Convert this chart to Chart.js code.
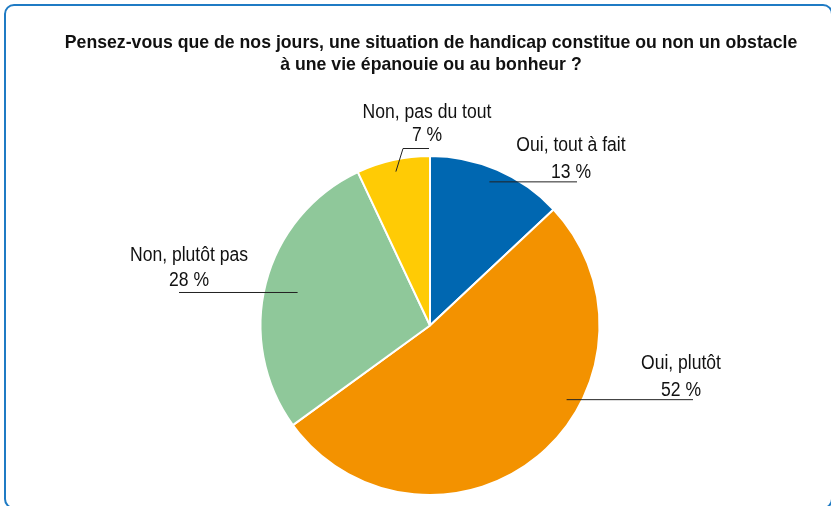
<!DOCTYPE html>
<html>
<head>
<meta charset="utf-8">
<script src="https://cdn.jsdelivr.net/npm/chart.js@4"></script>
<style>
  html, body { margin: 0; padding: 0; background: #fff; }
  body { width: 831px; height: 506px; overflow: hidden; position: relative; }
  .frame {
    position: absolute; left: 4px; top: 4px; width: 829px; height: 505px;
    border: 2px solid #1f7bc4; border-radius: 10px; box-sizing: border-box;
  }
  #wrap { position: absolute; left: 0; top: 0; width: 831px; height: 506px; }
</style>
</head>
<body>
<div class="frame"></div>
<div id="wrap"><canvas id="pie-chart"></canvas></div>
<script>
// chart data
const categories = ['Oui, tout à fait', 'Oui, plutôt', 'Non, plutôt pas', 'Non, pas du tout'];
const percentages = [13, 52, 28, 7];
const sliceColors = ['#0067b1', '#f39200', '#8fc89a', '#ffcb05'];
const titleLines = [
    'Pensez-vous que de nos jours, une situation de handicap constitue ou non un obstacle',
    'à une vie épanouie ou au bonheur ?'
];

// where each label sits, relative to the pie centre (pixels)
// t = position along the slice, rf = fraction of the radius for the leader start
const labelLayout = [
    { t: 0.48, rf: 0.917, lineEnd: 147, elbow: null, textX: 141, textY: [-175, -148] },
    { t: 0.383, rf: 0.917, lineEnd: 263, elbow: null, textX: 251, textY: [43, 70] },
    { t: 0.496, rf: 0.805, lineEnd: -251, elbow: null, textX: -241, textY: [-65, -40] },
    { t: 0.504, rf: 0.93, lineEnd: -1, elbow: [-27, -177], textX: -3, textY: [-208, -185] }
];

const fontStack = '"Liberation Sans", Arial, sans-serif';

// no condensed face installed, so squeeze the text horizontally
function narrowText(ctx, text, x, y, font, squeeze) {
    ctx.save();
    ctx.font = font;
    ctx.textAlign = 'center';
    ctx.textBaseline = 'alphabetic';
    ctx.translate(x, y);
    ctx.scale(squeeze, 1);
    ctx.fillText(text, 0, 0);
    ctx.restore();
}

const leaderLabels = {
    id: 'leaderLabels',
    afterDatasetsDraw(chart) {
        const ctx = chart.ctx;
        const meta = chart.getDatasetMeta(0);

        // title
        ctx.fillStyle = '#111';
        const tx = (chart.chartArea.left + chart.chartArea.right) / 2 + 1;
        narrowText(ctx, titleLines[0], tx, 48, 'bold 19px ' + fontStack, 0.93);
        narrowText(ctx, titleLines[1], tx, 70, 'bold 19px ' + fontStack, 0.93);

        meta.data.forEach(function (arc, i) {
            const p = arc.getProps(['x', 'y', 'startAngle', 'endAngle', 'outerRadius'], true);
            const lay = labelLayout[i];
            const a = p.startAngle + (p.endAngle - p.startAngle) * lay.t;
            const ax = p.x + Math.cos(a) * p.outerRadius * lay.rf;
            const ay = p.y + Math.sin(a) * p.outerRadius * lay.rf;

            ctx.save();
            ctx.strokeStyle = '#222';
            ctx.lineWidth = 1;
            ctx.beginPath();
            ctx.moveTo(ax, ay);
            let ly = ay;
            if (lay.elbow) {
                ctx.lineTo(p.x + lay.elbow[0], p.y + lay.elbow[1]);
                ly = p.y + lay.elbow[1];
            }
            ctx.lineTo(p.x + lay.lineEnd, ly);
            ctx.stroke();
            ctx.restore();

            ctx.fillStyle = '#111';
            narrowText(ctx, categories[i], p.x + lay.textX, p.y + lay.textY[0], '19.5px ' + fontStack, 0.9);
            narrowText(ctx, percentages[i] + ' %', p.x + lay.textX, p.y + lay.textY[1], '19.5px ' + fontStack, 0.9);
        });
    }
};

const pieChart = new Chart(document.getElementById('pie-chart'), {
    type: 'pie',
    data: {
        labels: categories,
        datasets: [{
            data: percentages,
            backgroundColor: sliceColors,
            borderColor: '#ffffff',
            borderWidth: 2
        }]
    },
    options: {
        responsive: true,
        maintainAspectRatio: false,
        animation: false,
        layout: { padding: { left: 29, right: 0, top: 155, bottom: 10 } },
        plugins: {
            legend: { display: false },
            tooltip: { enabled: false },
            title: { display: false }
        }
    },
    plugins: [leaderLabels]
});
</script>
</body>
</html>
